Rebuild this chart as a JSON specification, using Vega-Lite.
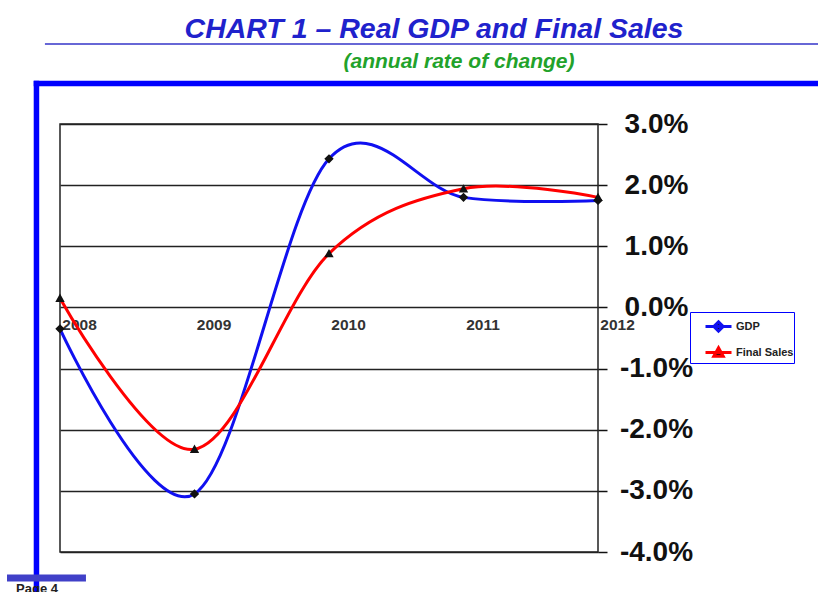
{
  "$schema": "https://vega.github.io/schema/vega-lite/v6.json",
  "width": 538,
  "height": 428,
  "autosize": "none",
  "padding": {"left": 60, "top": 124, "right": 220, "bottom": 40},
  "background": "white",
  "title": {
    "text": "CHART 1 – Real GDP and Final Sales",
    "subtitle": "(annual rate of change)",
    "anchor": "middle",
    "dx": 105,
    "offset": -29,
    "font": "Liberation Sans",
    "fontSize": 28.5,
    "fontWeight": "bold",
    "fontStyle": "italic",
    "color": "#1f22cc",
    "subtitleFont": "Liberation Sans",
    "subtitleFontSize": 21,
    "subtitleFontWeight": "bold",
    "subtitleFontStyle": "italic",
    "subtitleColor": "#22a22a",
    "subtitlePadding": 8,
    "encode": {"subtitle": {"update": {"dx": {"value": 130}}}}
  },
  "datasets": {
    "one": [{}]
  },
  "data": {
    "values": [
      {"year": 2008, "series": "GDP", "value": -0.35},
      {"year": 2009, "series": "GDP", "value": -3.05},
      {"year": 2010, "series": "GDP", "value": 2.43},
      {"year": 2011, "series": "GDP", "value": 1.8},
      {"year": 2012, "series": "GDP", "value": 1.75},
      {"year": 2008, "series": "Final Sales", "value": 0.15},
      {"year": 2009, "series": "Final Sales", "value": -2.32},
      {"year": 2010, "series": "Final Sales", "value": 0.88},
      {"year": 2011, "series": "Final Sales", "value": 1.94},
      {"year": 2012, "series": "Final Sales", "value": 1.8}
    ]
  },
  "layer": [
    {
      "data": {"name": "one"},
      "mark": {"type": "rule", "color": "#0000ff", "strokeWidth": 5.5, "strokeCap": "square"},
      "encoding": {
        "x": {"datum": 2007.825, "type": "quantitative"},
        "y": {"datum": 3.662, "type": "quantitative"},
        "y2": {"datum": -4.9}
      }
    },
    {
      "data": {"name": "one"},
      "mark": {"type": "rule", "color": "#0000ff", "strokeWidth": 5.5, "strokeCap": "square"},
      "encoding": {
        "x": {"datum": 2007.825, "type": "quantitative"},
        "x2": {"datum": 2014.2},
        "y": {"datum": 3.662, "type": "quantitative"}
      }
    },
    {
      "data": {"name": "one"},
      "mark": {"type": "rule", "color": "#3535c8", "strokeWidth": 1.5},
      "encoding": {
        "x": {"datum": 2007.888, "type": "quantitative"},
        "x2": {"datum": 2014.2},
        "y": {"datum": 4.308, "type": "quantitative"}
      }
    },
    {
      "data": {"name": "one"},
      "mark": {"type": "rule", "color": "#4040c8", "strokeWidth": 7},
      "encoding": {
        "x": {"datum": 2007.606, "type": "quantitative"},
        "x2": {"datum": 2008.193},
        "y": {"datum": -4.425, "type": "quantitative"}
      }
    },
    {
      "data": {"name": "one"},
      "mark": {"type": "text", "text": "Page 4", "font": "Liberation Sans", "fontSize": 13, "fontWeight": "bold", "color": "#222", "baseline": "top", "align": "center"},
      "encoding": {
        "x": {"datum": 2007.829, "type": "quantitative"},
        "y": {"datum": -4.51, "type": "quantitative"}
      }
    },
    {
      "mark": {"type": "line", "interpolate": "cardinal", "strokeWidth": 3},
      "encoding": {
        "x": {
          "field": "year", "type": "quantitative",
          "scale": {"domain": [2008, 2012], "nice": false, "zero": false},
          "axis": {
            "orient": "bottom", "offset": -245, "domain": false, "ticks": false, "tickSize": 0, "grid": false,
            "values": [2008, 2009, 2010, 2011, 2012], "format": "d", "title": null,
            "labelOffset": 19, "labelPadding": 10, "labelFont": "Liberation Sans", "labelFontSize": 15.5,
            "labelFontWeight": "bold", "labelColor": "#333", "labelFlush": false, "labelOverlap": false
          }
        },
        "y": {
          "field": "value", "type": "quantitative",
          "scale": {"domain": [-4, 3], "nice": false, "zero": false},
          "axis": {
            "orient": "right", "domain": false, "ticks": true, "tickSize": 9, "tickColor": "#111", "tickWidth": 1.5,
            "grid": true, "gridColor": "#222", "gridWidth": 1.5, "gridOpacity": 1,
            "values": [-4, -3, -2, -1, 0, 1, 2, 3], "title": null,
            "labelExpr": "(datum.value < 0 ? '-' : '') + format(abs(datum.value), '.1f') + '%'",
            "labelAlign": "center", "labelPadding": 49, "labelFont": "Liberation Sans", "labelFontSize": 28,
            "labelFontWeight": "bold", "labelColor": "#111", "labelFlush": false, "labelOverlap": false
          }
        },
        "color": {
          "field": "series", "type": "nominal",
          "scale": {"domain": ["GDP", "Final Sales"], "range": ["#1010f0", "#ff0000"]},
          "legend": {
            "orient": "none", "legendX": 630, "legendY": 188, "title": null,
            "padding": 0, "symbolOffset": 14, "labelOffset": 3, "symbolSize": 676,
            "symbolStrokeWidth": 3, "symbolFillColor": "#111", "rowPadding": 0,
            "symbolType": "M-1,0L1,0M0,-0.36L0.36,0L0,0.36L-0.36,0Z",
            "labelFont": "Liberation Sans", "labelFontSize": 11, "labelFontWeight": "bold", "labelColor": "#222",
            "fillColor": "white", "strokeColor": "#0000ff",
            "encode": {
              "symbols": {
                "update": {
                  "shape": {"signal": "datum.value === 'GDP' ? 'M-1,0L1,0M0,-0.36L0.36,0L0,0.36L-0.36,0Z' : 'M-1,0L1,0M0,-0.36L0.36,0.28L-0.36,0.28Z'"},
                  "strokeWidth": {"value": 3}
                }
              }
            }
          }
        }
      }
    },
    {
      "mark": {"type": "point", "filled": true, "fill": "#111", "size": 676, "strokeWidth": 0, "opacity": 1},
      "encoding": {
        "x": {"field": "year", "type": "quantitative"},
        "y": {"field": "value", "type": "quantitative"},
        "shape": {
          "field": "series", "type": "nominal",
          "scale": {
            "domain": ["GDP", "Final Sales"],
            "range": [
              "M-1,0L1,0M0,-0.36L0.36,0L0,0.36L-0.36,0Z",
              "M-1,0L1,0M0,-0.36L0.36,0.28L-0.36,0.28Z"
            ]
          },
          "legend": null
        }
      }
    }
  ],
  "config": {
    "view": {"stroke": "#222", "strokeWidth": 1.5}
  }
}
